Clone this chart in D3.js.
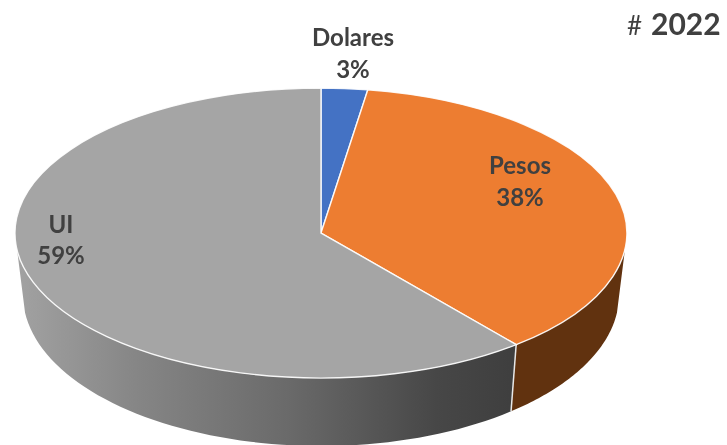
<!DOCTYPE html>
<html><head><meta charset="utf-8">
<script src="https://cdn.jsdelivr.net/npm/d3@7/dist/d3.min.js"></script>
<style>html,body{margin:0;background:#fff}svg{display:block;filter:blur(0.4px)}</style>
</head><body><svg id="c" width="727" height="445"></svg>
<script>
const categories = ["Dolares", "Pesos", "UI"];
const shares = [3, 38, 59];
const topColors = ["#4472C4", "#ED7D31", "#A5A5A5"];
const sideColors = ["#2a4579", "#61320F", null];
const yearPrefix = "#";
const yearLabel = "2022";

const W = 727, H = 445;
const top_ = {cx: 321, cy: 233, rx: 306, ry: 145};
const bot = {cx: 321, cy: 295, rx: 298, ry: 151};
const svg = d3.select("#c").attr("viewBox", `0 0 ${W} ${H}`);
const font = "Lato, 'Open Sans', sans-serif";
const TAU = 2 * Math.PI;

// Viewing tilt foreshortens the circle: true share angle -> drawn ellipse angle.
const tilt = d3.scaleLinear()
  .domain([0, 0.03 * TAU, 0.41 * TAU, TAU])
  .range([0, 0.154, 2.45, TAU]);

const arcs = d3.pie().value(d => d).sort(null)(shares).map((a, i) => ({
  ...a, i, startAngle: tilt(a.startAngle), endAngle: tilt(a.endAngle)
}));

const defs = svg.append("defs");
const grad = defs.append("linearGradient").attr("id", "uiSide")
  .attr("gradientUnits", "userSpaceOnUse")
  .attr("x1", 16).attr("x2", 510).attr("y1", 0).attr("y2", 0);
[[0, "#a2a2a2"], [0.25, "#858585"], [0.55, "#6a6a6a"], [0.85, "#474747"], [1, "#3f3f3f"]]
  .forEach(([o, c]) => grad.append("stop").attr("offset", o).attr("stop-color", c));

const pt = (e, t) => [e.cx + e.rx * Math.sin(t), e.cy - e.ry * Math.cos(t)];
const line = d3.line();
const visFrom = 1.688, visTo = TAU - 1.688;

// Side walls
const sideG = svg.append("g");
arcs.forEach(a => {
  const s = Math.max(a.startAngle, visFrom), e = Math.min(a.endAngle, visTo);
  if (e <= s) return;
  const ts = d3.range(0, 61).map(k => s + (e - s) * k / 60);
  const d = line([...ts.map(t => pt(top_, t)), ...ts.slice().reverse().map(t => pt(bot, t))]) + "Z";
  sideG.append("path").attr("d", d)
    .attr("fill", sideColors[a.i] || "url(#uiSide)");
});
// seam between the walls
const seam = arcs[1].endAngle;
sideG.append("path").attr("d", line([pt(top_, seam), pt(bot, seam)]))
  .attr("stroke", "#e8e8e8").attr("stroke-width", 1.5).attr("fill", "none");

// Top faces
const arcGen = d3.arc().innerRadius(0).outerRadius(1);
const topG = svg.append("g")
  .attr("transform", `translate(${top_.cx},${top_.cy}) scale(${top_.rx},${top_.ry})`);
topG.selectAll("path").data(arcs).join("path")
  .attr("d", arcGen)
  .attr("fill", d => topColors[d.i])
  .attr("stroke", "#fff")
  .attr("stroke-opacity", 0.9)
  .attr("stroke-width", 1.4)
  .attr("vector-effect", "non-scaling-stroke");

// Labels
const labelPos = {Dolares: [353, 46, 78], Pesos: [520, 174, 206], UI: [61, 233, 264]};
const lab = svg.append("g").attr("font-family", font).attr("font-weight", 700)
  .attr("font-size", 24).attr("fill", "#404040").attr("text-anchor", "middle");
categories.forEach((c, i) => {
  const [x, y1, y2] = labelPos[c];
  lab.append("text").attr("x", x).attr("y", y1).text(c);
  lab.append("text").attr("x", x).attr("y", y2).text(shares[i] + "%");
});

// Year tag
const tag = svg.append("text").attr("y", 35).attr("font-family", font).attr("fill", "#404040");
tag.append("tspan").attr("x", 627).attr("font-size", 26).attr("font-weight", 400).text(yearPrefix);
tag.append("tspan").attr("x", 651).attr("font-size", 30).attr("font-weight", 700).text(yearLabel);
</script></body></html>
